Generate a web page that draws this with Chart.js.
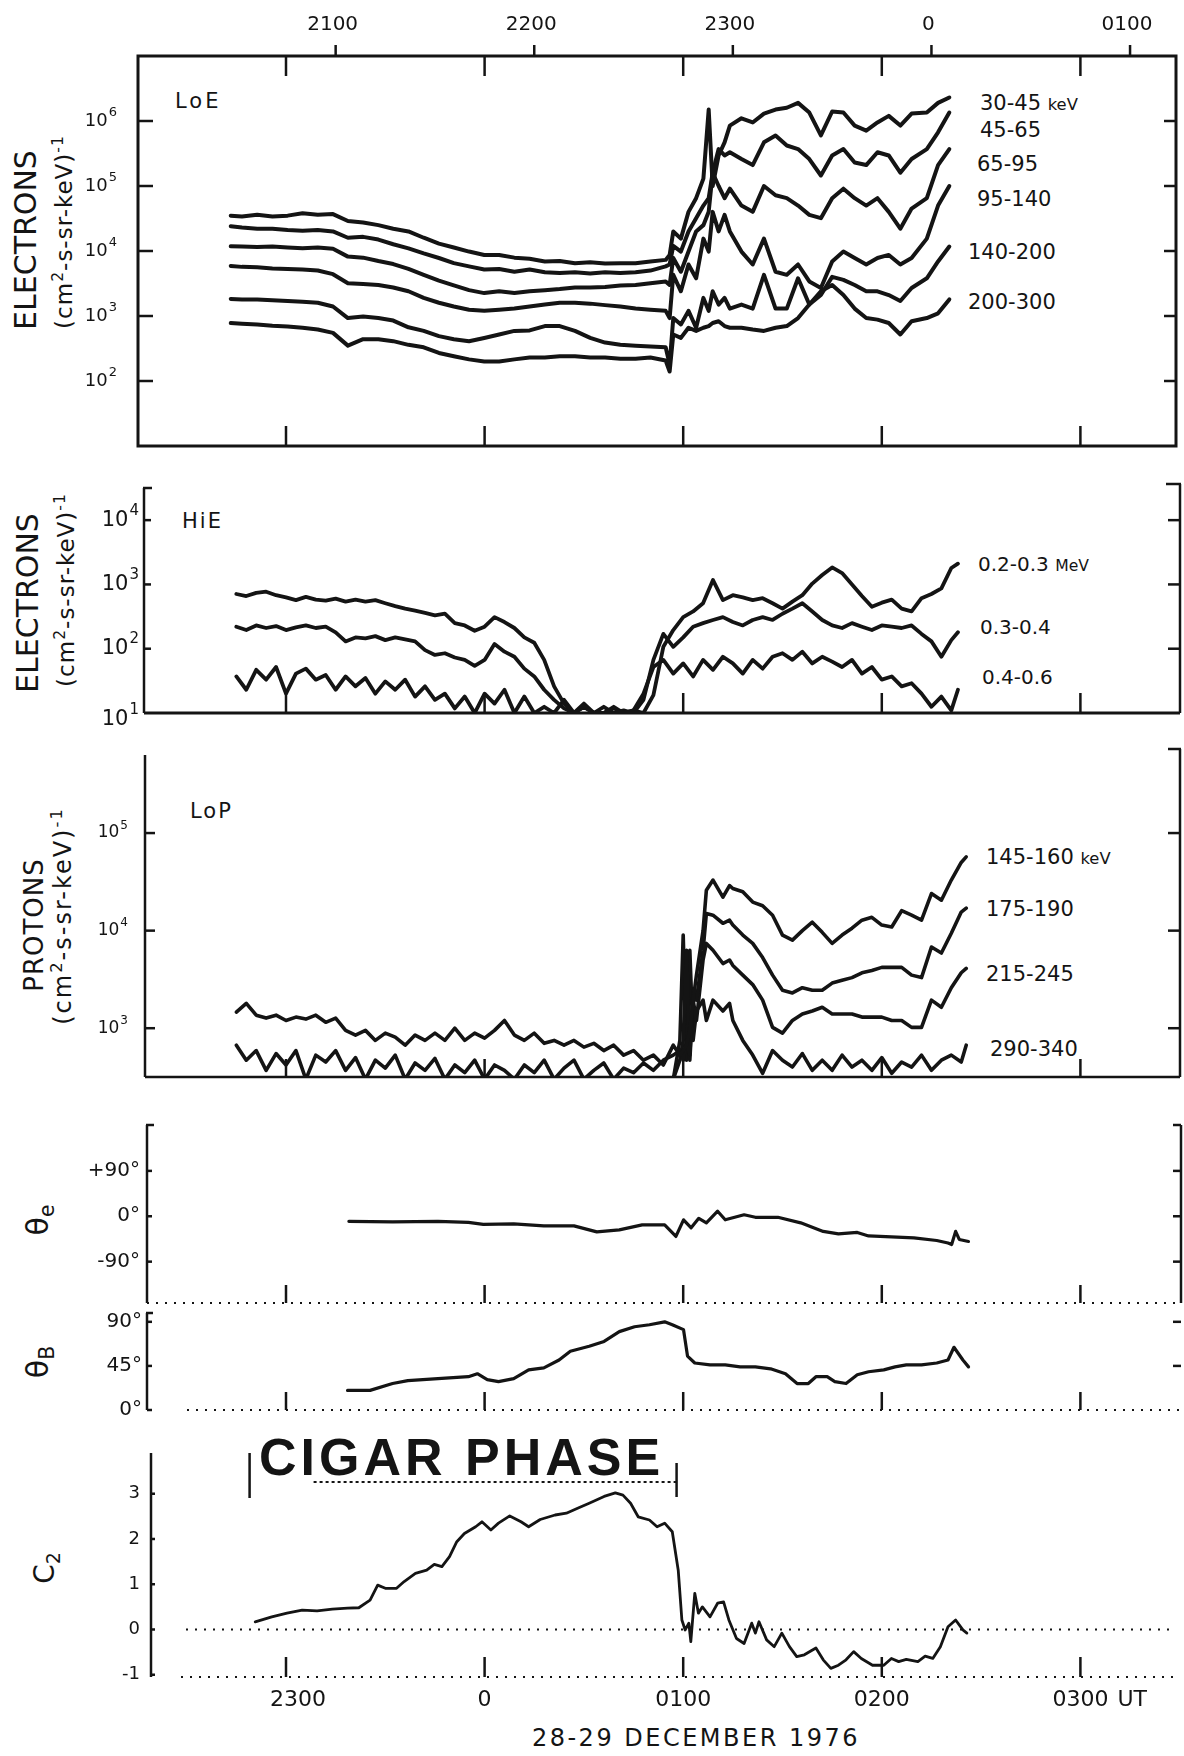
<!DOCTYPE html>
<html>
<head>
<meta charset="utf-8">
<title>Cigar phase, 28-29 December 1976</title>
<script src="https://cdn.jsdelivr.net/npm/chart.js@4.4.1/dist/chart.umd.min.js"></script>
<style>
  html, body { margin: 0; background: #fff; }
  #fig { position: relative; width: 1184px; height: 1756px; overflow: hidden; font-family: "DejaVu Sans", sans-serif; color: #141414; }
  #fig canvas { position: absolute; left: 0; }
  .lbl { position: absolute; white-space: nowrap; line-height: 1; transform: translateY(-50%); }
  .rot { position: absolute; white-space: nowrap; line-height: 1; transform: translate(-50%, -50%) rotate(-90deg); }
  sup { font-size: 68%; vertical-align: 0.55em; line-height: 0; }
  sub { font-size: 68%; vertical-align: -0.3em; line-height: 0; }
  .sm { font-size: 78%; }
</style>
</head>
<body>
<div id="fig">
  <div class="rot" style="left:26px;top:240px;font-size:30px;">ELECTRONS</div>
  <div class="rot" style="left:64px;top:232px;font-size:23px;letter-spacing:1px;">(cm<sup>2</sup>-s-sr-keV)<sup>-1</sup></div>
  <div class="lbl" style="left:175px;top:101px;font-size:21px;letter-spacing:3px;">LoE</div>
  <div class="lbl" style="left:980px;top:103px;font-size:21px;">30-45 <span class="sm">keV</span></div>
  <div class="lbl" style="left:980px;top:130px;font-size:21px;">45-65</div>
  <div class="lbl" style="left:977px;top:164px;font-size:21px;">65-95</div>
  <div class="lbl" style="left:977px;top:199px;font-size:21px;">95-140</div>
  <div class="lbl" style="left:968px;top:252px;font-size:21px;">140-200</div>
  <div class="lbl" style="left:968px;top:302px;font-size:21px;">200-300</div>

  <div class="rot" style="left:28px;top:603px;font-size:30px;">ELECTRONS</div>
  <div class="rot" style="left:66px;top:590px;font-size:23px;letter-spacing:1px;">(cm<sup>2</sup>-s-sr-keV)<sup>-1</sup></div>
  <div class="lbl" style="left:182px;top:521px;font-size:21px;letter-spacing:2px;">HiE</div>
  <div class="lbl" style="left:978px;top:564px;font-size:20px;">0.2-0.3 <span class="sm">MeV</span></div>
  <div class="lbl" style="left:980px;top:627px;font-size:20px;">0.3-0.4</div>
  <div class="lbl" style="left:982px;top:677px;font-size:20px;">0.4-0.6</div>

  <div class="rot" style="left:34px;top:925px;font-size:26px;letter-spacing:1px;">PROTONS</div>
  <div class="rot" style="left:63px;top:916px;font-size:24px;letter-spacing:2px;">(cm<sup>2</sup>-s-sr-keV)<sup>-1</sup></div>
  <div class="lbl" style="left:190px;top:811px;font-size:21px;letter-spacing:2px;">LoP</div>
  <div class="lbl" style="left:986px;top:857px;font-size:21px;">145-160 <span class="sm">keV</span></div>
  <div class="lbl" style="left:986px;top:909px;font-size:21px;">175-190</div>
  <div class="lbl" style="left:986px;top:974px;font-size:21px;">215-245</div>
  <div class="lbl" style="left:990px;top:1049px;font-size:21px;">290-340</div>

  <div class="rot" style="left:38px;top:1220px;font-size:30px;">θ<sub>e</sub></div>
  <div class="rot" style="left:38px;top:1362px;font-size:30px;">θ<sub>B</sub></div>
  <div class="rot" style="left:45px;top:1568px;font-size:28px;">C<sub>2</sub></div>
  <div class="lbl" style="left:259px;top:1457px;font:bold 52px 'Liberation Sans',sans-serif;letter-spacing:4px;">CIGAR PHASE</div>
  <div class="lbl" style="left:696px;top:1738px;font-size:24px;letter-spacing:2.5px;transform:translate(-50%,-50%);">28-29 DECEMBER 1976</div>
</div>
<script>
// time in minutes from 0000 UT, 29 Dec 1976 (2300 = -60)
const hourMarks = [-60, 0, 60, 120, 180];
const hourLabels = ['2300', '0', '0100', '0200', '0300'];
// upper time scale of the LoE panel
const topMarks = [-180, -120, -60, 0, 60];
const topMarkLabels = ['2100', '2200', '2300', '0', '0100'];
const topAxisShift = 135;

const loeTicks = [1e2, 1e3, 1e4, 1e5, 1e6];
const hieTicks = [1e1, 1e2, 1e3, 1e4];
const lopTicks = [1e3, 1e4, 1e5];
const thetaETicks = [90, 0, -90];
const thetaETickLabels = ['+90°', '0°', '-90°'];
const thetaBTicks = [90, 45, 0];
const thetaBTickLabels = ['90°', '45°', '0°'];
const c2Ticks = [3, 2, 1, 0, -1];
const cigarPhase = [-71, 58];

// LoE electrons
const loeTime = [-76.7, -73.3, -68.7, -64.1, -59.5, -55.0, -50.4, -45.8, -41.3, -36.7, -32.1, -27.6, -23.0, -18.4, -13.8, -9.3, -4.7, -0.1, 4.4, 9.0, 13.6, 18.2, 22.7, 27.3, 31.9, 36.4, 41.0, 45.6, 50.1, 54.7,
  55.9, 57.0, 59.3, 61.6, 63.9, 66.1, 67.7, 68.9, 70.7, 72.5, 74.1,
  77.6, 81.0, 84.4, 87.9, 91.3, 94.7, 98.1, 101.6, 105.0, 108.4, 111.8, 115.3, 118.7, 122.1, 125.6, 129.0, 133.6, 137.0, 140.4];
const loe30_45 = [3.5e4, 3.4e4, 3.6e4, 3.4e4, 3.5e4, 3.8e4, 3.6e4, 3.7e4, 2.9e4, 2.75e4, 2.5e4, 2.2e4, 2.0e4, 1.6e4, 1.3e4, 1.13e4, 9.8e3, 8.7e3, 8.7e3, 7.9e3, 7.6e3, 6.9e3, 7.0e3, 6.5e3, 6.7e3, 6.4e3, 6.5e3, 6.5e3, 6.9e3, 7.3e3,
  8.7e3, 2.0e4, 1.55e4, 4.0e4, 6.5e4, 1.3e5, 1.5e6, 1.0e5, 2.95e5, 4.7e5, 8.5e5,
  1.1e6, 9.5e5, 1.3e6, 1.5e6, 1.6e6, 1.9e6, 1.35e6, 6.0e5, 1.4e6, 1.35e6, 8.5e5, 7.1e5, 9.5e5, 1.2e6, 8.5e5, 1.3e6, 1.35e6, 1.9e6, 2.3e6];
const loe45_65 = [2.4e4, 2.3e4, 2.2e4, 2.2e4, 2.1e4, 2.05e4, 2.1e4, 2.0e4, 1.6e4, 1.65e4, 1.5e4, 1.27e4, 1.1e4, 9.2e3, 7.8e3, 6.5e3, 5.8e3, 5.2e3, 5.3e3, 4.8e3, 5.2e3, 4.7e3, 4.6e3, 4.7e3, 4.5e3, 4.7e3, 4.6e3, 4.7e3, 5.0e3, 5.8e3,
  6.2e3, 1.2e4, 9.8e3, 2.0e4, 3.2e4, 5.0e4, 6.5e4, 1.6e5, 3.7e5, 2.95e5, 3.3e5,
  2.6e5, 2.1e5, 4.7e5, 6.0e5, 4.2e5, 3.7e5, 2.6e5, 1.45e5, 2.95e5, 3.7e5, 2.3e5, 2.1e5, 3.3e5, 2.95e5, 1.6e5, 2.6e5, 3.7e5, 6.7e5, 1.35e6];
const loe65_95 = [1.18e4, 1.17e4, 1.15e4, 1.17e4, 1.13e4, 1.1e4, 1.13e4, 1.08e4, 8.2e3, 7.9e3, 7.0e3, 6.3e3, 5.3e3, 4.3e3, 3.5e3, 2.95e3, 2.5e3, 2.25e3, 2.4e3, 2.25e3, 2.4e3, 2.5e3, 2.6e3, 2.75e3, 2.75e3, 2.8e3, 2.95e3, 3.0e3, 3.2e3, 3.4e3,
  3.0e3, 7.8e3, 4.8e3, 9.8e3, 2.0e4, 2.5e4, 4.0e4, 1.6e5, 1.0e5, 6.5e4, 9.1e4,
  5.0e4, 4.0e4, 1.0e5, 7.2e4, 6.5e4, 5.0e4, 3.6e4, 3.2e4, 6.5e4, 9.1e4, 6.5e4, 5.0e4, 6.5e4, 4.0e4, 2.2e4, 4.5e4, 6.5e4, 2.1e5, 3.7e5];
const loe95_140 = [5.9e3, 5.7e3, 5.6e3, 5.4e3, 5.3e3, 5.2e3, 5.0e3, 4.4e3, 3.2e3, 3.1e3, 3.0e3, 2.75e3, 2.4e3, 1.9e3, 1.6e3, 1.4e3, 1.25e3, 1.2e3, 1.25e3, 1.3e3, 1.4e3, 1.5e3, 1.6e3, 1.6e3, 1.55e3, 1.47e3, 1.4e3, 1.3e3, 1.25e3, 1.2e3,
  9.3e2, 4.3e3, 2.4e3, 6.2e3, 3.8e3, 1.55e4, 9.8e3, 4.0e4, 2.0e4, 3.6e4, 2.0e4,
  9.8e3, 6.2e3, 1.55e4, 4.8e3, 4.3e3, 6.2e3, 3.4e3, 2.7e3, 6.9e3, 9.8e3, 7.8e3, 6.2e3, 7.8e3, 8.7e3, 6.2e3, 7.8e3, 1.55e4, 5.0e4, 1.0e5];
const loe140_200 = [1.83e3, 1.8e3, 1.8e3, 1.75e3, 1.7e3, 1.66e3, 1.6e3, 1.4e3, 9.3e2, 9.8e2, 9.3e2, 8.5e2, 6.7e2, 5.9e2, 4.9e2, 4.4e2, 4.1e2, 4.6e2, 5.2e2, 5.9e2, 6.0e2, 7.0e2, 7.0e2, 5.9e2, 4.6e2, 3.9e2, 3.6e2, 3.5e2, 3.4e2, 3.3e2,
  1.8e2, 9.3e2, 7.4e2, 1.2e3, 6.6e2, 1.9e3, 1.2e3, 2.4e3, 1.5e3, 1.9e3, 1.3e3,
  1.5e3, 1.3e3, 4.3e3, 1.3e3, 1.3e3, 3.8e3, 1.5e3, 2.1e3, 4.0e3, 3.6e3, 3.0e3, 2.4e3, 2.4e3, 2.1e3, 1.7e3, 2.7e3, 3.8e3, 6.9e3, 1.17e4];
const loe200_300 = [7.8e2, 7.6e2, 7.4e2, 7.1e2, 6.9e2, 6.6e2, 6.2e2, 5.5e2, 3.5e2, 4.4e2, 4.4e2, 4.1e2, 3.6e2, 3.3e2, 2.7e2, 2.4e2, 2.15e2, 2.0e2, 2.0e2, 2.15e2, 2.3e2, 2.3e2, 2.4e2, 2.4e2, 2.3e2, 2.3e2, 2.2e2, 2.2e2, 2.3e2, 2.07e2,
  1.4e2, 5.2e2, 4.6e2, 6.6e2, 5.9e2, 6.6e2, 7.0e2, 7.8e2, 8.3e2, 7.0e2, 6.6e2,
  6.6e2, 6.2e2, 5.9e2, 6.6e2, 7.0e2, 9.3e2, 1.5e3, 2.4e3, 3.0e3, 2.1e3, 1.3e3, 9.3e2, 8.8e2, 7.8e2, 5.2e2, 8.3e2, 9.3e2, 1.1e3, 1.8e3];

// HiE electrons
const hieTime = [-75, -72, -69, -66, -63, -60, -57, -54, -51, -48, -45, -42, -39, -36, -33, -30, -27, -24, -21, -18, -15, -12, -9, -6, -3, 0, 3, 6, 9, 12, 15, 18, 21, 24, 27, 30, 33, 36,
  39, 42, 45, 48, 51, 54, 57, 60, 63, 66, 69, 72, 75, 78, 81, 84, 87, 90, 93, 96, 99, 102, 105, 108, 111, 114, 117, 120, 123, 126, 129, 132, 135, 138, 141, 143];
const hie02_03 = [7.1e2, 6.6e2, 7.4e2, 7.7e2, 6.8e2, 6.3e2, 5.7e2, 6.4e2, 5.8e2, 5.6e2, 6.0e2, 5.4e2, 5.8e2, 5.4e2, 5.7e2, 5.1e2, 4.6e2, 4.2e2, 3.9e2, 3.6e2, 3.3e2, 3.5e2, 2.5e2, 2.3e2, 1.9e2, 2.2e2, 3.1e2, 2.6e2, 2.1e2, 1.5e2, 1.24e2, 67, 26, 14, 10, 12.5, 10,
  10, 11.8, 10, 11, 10, 19, 1.07e2, 1.95e2, 3.1e2, 3.8e2, 5.1e2, 1.17e3, 5.7e2, 6.8e2, 6.3e2, 5.7e2, 6.1e2, 5.1e2, 4.2e2, 5.4e2, 6.8e2, 1.03e3, 1.4e3, 1.84e3, 1.5e3, 1.0e3, 6.6e2, 4.5e2, 5.2e2, 5.8e2, 4.2e2, 3.8e2, 6.1e2, 7.1e2, 8.7e2, 1.8e3, 2.1e3];
const hie03_04 = [2.2e2, 1.95e2, 2.3e2, 2.1e2, 2.25e2, 1.95e2, 2.15e2, 2.3e2, 2.1e2, 2.2e2, 1.8e2, 1.3e2, 1.5e2, 1.45e2, 1.57e2, 1.36e2, 1.5e2, 1.4e2, 1.3e2, 95, 80, 85, 73, 67, 54, 67, 1.18e2, 90, 75, 49, 37, 23, 16, 11.8, 10, 14, 10,
  12.5, 10, 11, 10, 16, 67, 1.7e2, 1.07e2, 1.5e2, 2.2e2, 2.5e2, 2.8e2, 3.1e2, 2.6e2, 2.3e2, 2.8e2, 3.1e2, 2.8e2, 3.5e2, 4.2e2, 5.1e2, 3.8e2, 2.8e2, 2.3e2, 2.1e2, 2.5e2, 2.2e2, 1.95e2, 2.3e2, 2.2e2, 2.1e2, 2.3e2, 1.7e2, 1.3e2, 75, 1.36e2, 1.8e2];
const hie04_06 = [37, 23, 47, 33, 52, 20, 41, 49, 33, 39, 23, 37, 26, 35, 20, 31, 23, 33, 18, 26, 16, 20, 11.8, 18, 10, 20, 14, 23, 10, 18, 10, 12.5, 10, 16, 10, 12.5, 10,
  10, 12.5, 10, 11, 20, 52, 67, 41, 59, 37, 67, 47, 75, 59, 41, 67, 49, 75, 85, 67, 90, 59, 75, 63, 52, 67, 41, 52, 33, 37, 26, 29, 20, 12.5, 18, 11, 23];

// LoP protons
const lopTime = [-75, -72, -69, -66, -63, -60, -57, -54, -51, -48, -45, -42, -39, -36, -33, -30, -27, -24, -21, -18, -15, -12, -9, -6, -3, 0, 3, 6, 9, 12, 15, 18, 21, 24, 27, 30, 33, 36, 39, 42, 45, 48, 51, 54, 57,
  59, 60, 61, 62, 63, 64, 66, 67, 69, 72, 74,
  75, 78, 81, 84, 87, 90, 93, 96, 99, 102, 105, 108, 111, 114, 117, 120, 123, 126, 129, 132, 135, 138, 141, 144, 145.5];
const lop145_160 = [1.46e3, 1.8e3, 1.36e3, 1.27e3, 1.36e3, 1.2e3, 1.3e3, 1.24e3, 1.36e3, 1.15e3, 1.27e3, 9.5e2, 8.5e2, 9.5e2, 7.5e2, 8.9e2, 8.1e2, 6.7e2, 8.5e2, 7.5e2, 8.9e2, 7.5e2, 1.0e3, 7.5e2, 8.9e2, 7.9e2, 9.5e2, 1.2e3, 8.5e2, 7.5e2, 8.9e2, 7.0e2, 7.5e2, 6.7e2, 7.5e2, 6.4e2, 7.0e2, 5.9e2, 6.7e2, 5.3e2, 5.9e2, 4.7e2, 5.3e2, 4.2e2, 6.7e2,
  5.3e2, 5.9e2, 6.7e2, 9.5e2, 1.94e3, 3.5e3, 1.0e4, 2.6e4, 3.3e4, 2.2e4, 2.9e4,
  2.7e4, 2.5e4, 1.96e4, 1.8e4, 1.44e4, 9.0e3, 8.0e3, 1.0e4, 1.22e4, 9.6e3, 7.4e3, 9.0e3, 1.06e4, 1.28e4, 1.37e4, 1.14e4, 1.09e4, 1.6e4, 1.44e4, 1.28e4, 2.4e4, 2.05e4, 3.3e4, 5.0e4, 5.7e4];
const lop175_190 = [6.7e2, 4.7e2, 5.9e2, 3.7e2, 5.5e2, 4.2e2, 5.9e2, 3.0e2, 5.3e2, 4.5e2, 5.9e2, 3.7e2, 5.0e2, 3.0e2, 4.7e2, 3.9e2, 5.3e2, 3.0e2, 4.4e2, 3.7e2, 4.9e2, 3.0e2, 4.2e2, 3.5e2, 4.7e2, 3.0e2, 4.2e2, 3.7e2, 3.0e2, 4.2e2, 3.5e2, 4.7e2, 3.0e2, 3.9e2, 4.7e2, 3.0e2, 3.7e2, 4.4e2, 3.0e2, 3.9e2, 3.5e2, 4.4e2, 3.7e2, 4.7e2, 5.3e2,
  5.9e2, 4.7e2, 7.5e2, 5.3e2, 2.45e3, 1.94e3, 6.3e3, 1.5e4, 1.44e4, 1.19e4, 1.28e4,
  1.14e4, 9.0e3, 7.4e3, 5.3e3, 3.5e3, 2.45e3, 2.3e3, 2.6e3, 2.45e3, 2.45e3, 2.9e3, 3.1e3, 3.3e3, 3.7e3, 3.9e3, 4.2e3, 4.2e3, 4.2e3, 3.5e3, 3.3e3, 6.8e3, 5.9e3, 9.4e3, 1.55e4, 1.7e4];
// the two highest channels rise out of the floor from t = 57
const lop215_245 = [3.0e2,
  4.7e2, 7.5e2, 6.3e3, 4.7e2, 1.94e3, 1.2e3, 5.0e3, 7.4e3, 6.3e3, 4.6e3, 5.0e3,
  4.4e3, 3.5e3, 2.8e3, 1.94e3, 1.02e3, 8.9e2, 1.2e3, 1.4e3, 1.5e3, 1.64e3, 1.4e3, 1.4e3, 1.4e3, 1.3e3, 1.3e3, 1.3e3, 1.2e3, 1.2e3, 1.02e3, 1.02e3, 1.94e3, 1.64e3, 2.6e3, 3.7e3, 4.1e3];
const lop290_340 = [3.0e2,
  7.5e2, 9.0e3, 4.7e2, 6.3e3, 7.5e2, 1.5e3, 1.94e3, 1.2e3, 1.94e3, 1.5e3, 1.8e3,
  1.2e3, 7.5e2, 5.3e2, 3.45e2, 5.9e2, 4.7e2, 4.0e2, 5.5e2, 3.7e2, 4.7e2, 3.7e2, 5.3e2, 4.0e2, 4.7e2, 3.7e2, 5.0e2, 3.45e2, 4.5e2, 4.0e2, 5.3e2, 3.7e2, 4.7e2, 5.3e2, 4.5e2, 6.7e2];

// pitch angles (degrees)
const thetaETime = [-41.0, -27.8, -14.1, -4.9, -0.4, 8.8, 17.9, 27.0, 31.6, 33.9, 40.7, 47.6, 54.4, 57.8, 60.1, 62.4, 64.7, 67.0, 70.4, 72.7, 78.4, 81.8, 88.6, 95.5, 102.3, 106.9, 112.6, 116.0, 122.9, 129.7, 136.6, 140.0, 141.1, 142.3, 143.4, 146.2];
const thetaE = [-10, -11, -10, -12, -16, -15, -19, -19, -27, -31, -27, -17, -17, -40, -7, -23, -4, -13, 10, -7, 3, -2, -2, -13, -30, -35, -32, -39, -41, -43, -48, -53, -56, -30, -46, -50];
const thetaBTime = [-41.4, -34.6, -27.8, -23.2, -14.1, -4.9, -2.2, 0.8, 4.2, 8.8, 13.3, 17.9, 22.5, 25.9, 31.6, 36.1, 40.7, 45.3, 49.8, 54.4, 56.7, 60.1, 61.3, 63.5, 68.1, 72.7, 77.2, 81.8, 86.4, 90.9, 94.4, 97.8, 100.1, 103.5, 105.8, 109.2, 112.6, 116.0, 120.6, 124.0, 127.4, 132.0, 136.6, 140.0, 141.8, 144.5, 146.2];
const thetaB = [20, 20, 27, 30, 32, 34, 37, 31, 29, 32, 41, 43, 51, 60, 65, 70, 80, 85, 87, 90, 87, 82, 55, 48, 46, 46, 44, 44, 42, 37, 27, 27, 34, 34, 29, 27, 36, 39, 41, 44, 46, 46, 48, 51, 64, 51, 44];

// C2
const c2Time = [-69.3, -64.3, -59.7, -55.1, -50.6, -46.0, -41.4, -38.0, -34.6, -32.3, -30.0, -26.6, -24.3, -20.9, -17.5, -15.2, -12.9, -10.6, -8.4, -6.1,
  -2.7, -0.8, 1.9, 4.2, 7.6, 11.0, 13.3, 16.8, 21.3, 24.7, 28.1, 31.6, 36.1, 39.5, 41.8, 44.1, 46.4, 49.8, 52.1, 54.4,
  56.7, 58.5, 59.6, 60.6, 61.7, 62.3, 63.5, 64.6, 65.8, 68.1, 70.4, 72.2, 73.8, 76.1, 78.4, 80.7, 81.8, 82.9, 85.2, 87.5,
  89.8, 92.1, 94.3, 96.6, 100.1, 102.3, 104.6, 106.9, 109.2, 111.5, 113.8, 117.2, 120.6, 122.9, 125.1, 127.4, 130.9, 133.1, 135.4, 137.7, 140.0, 142.3, 144.5, 145.7];
const c2 = [0.17, 0.28, 0.36, 0.43, 0.41, 0.45, 0.47, 0.48, 0.65, 0.98, 0.91, 0.91, 1.06, 1.24, 1.31, 1.44, 1.39, 1.61, 1.94, 2.12,
  2.27, 2.38, 2.20, 2.35, 2.51, 2.38, 2.27, 2.43, 2.53, 2.57, 2.68, 2.79, 2.94, 3.02, 2.97, 2.79, 2.49, 2.42, 2.27, 2.35,
  2.16, 1.31, 0.21, -0.01, 0.14, -0.27, 0.80, 0.36, 0.50, 0.28, 0.58, 0.61, 0.21, -0.20, -0.31, 0.14, -0.08, 0.17, -0.23, -0.38,
  -0.08, -0.38, -0.60, -0.56, -0.41, -0.67, -0.86, -0.79, -0.67, -0.49, -0.64, -0.79, -0.79, -0.64, -0.71, -0.66, -0.71, -0.59, -0.64, -0.38, 0.06, 0.21, -0.01, -0.08];

const fig = document.getElementById('fig');
const INK = '#141414';
const FIG_W = 1184;
// all panels share one time axis: 2300 UT sits at x=286, 3.31 px per minute
const X_AT_2300 = 286, PX_PER_MIN = 3.31;
function minuteAtPx(px) { return -60 + (px - X_AT_2300) / PX_PER_MIN; }

function pts(time, vals) { return time.map((t, i) => ({ x: t, y: vals[i] })); }
function trace(time, vals, width) {
  return {
    data: pts(time, vals), borderColor: INK, borderWidth: width, pointRadius: 0,
    tension: 0, fill: false, borderJoinStyle: 'round', borderCapStyle: 'round',
    xAxisID: 'x', yAxisID: 'y'
  };
}

function seg(ctx, x1, y1, x2, y2) { ctx.beginPath(); ctx.moveTo(x1, y1); ctx.lineTo(x2, y2); ctx.stroke(); }
function dotted(ctx, x1, y, x2) { ctx.save(); ctx.setLineDash([2, 7]); seg(ctx, x1, y, x2, y); ctx.restore(); }
function label(ctx, s, x, y, size, align) {
  ctx.font = size + 'px "DejaVu Sans"';
  ctx.textAlign = align || 'right';
  ctx.textBaseline = 'middle';
  ctx.fillText(s, x, y);
}
function powLabel(ctx, v, xr, y, size) {
  const exp = String(Math.round(Math.log10(v)));
  ctx.textBaseline = 'middle'; ctx.textAlign = 'right';
  ctx.font = Math.round(size * 0.72) + 'px "DejaVu Sans"';
  const w = ctx.measureText(exp).width;
  ctx.fillText(exp, xr, y - size * 0.45);
  ctx.font = size + 'px "DejaVu Sans"';
  ctx.fillText('10', xr - w - 1, y);
}
function hourTicks(chart, ctx, y, len) {
  hourMarks.forEach(t => {
    const x = chart.scales.x.getPixelForValue(t);
    seg(ctx, x, y, x, y + len);
  });
}

function panel(box, yScale, datasets, draw) {
  const cv = document.createElement('canvas');
  cv.width = FIG_W;
  cv.height = box.bottom - box.top + box.padTop + box.padBottom;
  cv.style.top = (box.top - box.padTop) + 'px';
  fig.appendChild(cv);
  const scales = {
    x: { type: 'linear', display: false, min: minuteAtPx(box.left), max: minuteAtPx(box.right) },
    y: Object.assign({ display: false }, yScale)
  };
  if (box.topShift !== undefined) {
    scales.x2 = { type: 'linear', display: false, position: 'top',
      min: scales.x.min - box.topShift, max: scales.x.max - box.topShift };
  }
  return new Chart(cv, {
    type: 'line',
    data: { datasets },
    options: {
      responsive: false, animation: false, events: [],
      layout: { padding: { left: box.left, right: FIG_W - box.right, top: box.padTop, bottom: box.padBottom } },
      plugins: { legend: { display: false }, tooltip: { enabled: false } },
      scales
    },
    plugins: [{
      id: 'frame',
      afterDatasetsDraw(chart) {
        const ctx = chart.ctx;
        ctx.save();
        ctx.strokeStyle = INK; ctx.fillStyle = INK; ctx.lineWidth = 2.5; ctx.lineCap = 'butt';
        draw(chart, ctx, chart.chartArea, chart.scales.x, chart.scales.y);
        ctx.restore();
      }
    }]
  });
}

// LoE
panel({ left: 138, right: 1176, top: 56, bottom: 446, padTop: 56, padBottom: 24, topShift: topAxisShift },
  { type: 'logarithmic', min: 10, max: 1e7 },
  [trace(loeTime, loe30_45, 4), trace(loeTime, loe45_65, 4), trace(loeTime, loe65_95, 4),
   trace(loeTime, loe95_140, 4), trace(loeTime, loe140_200, 4), trace(loeTime, loe200_300, 4)],
  (chart, ctx, a, xs, ys) => {
    ctx.lineWidth = 3;
    ctx.strokeRect(a.left, a.top, a.right - a.left, a.bottom - a.top);
    ctx.lineWidth = 2.5;
    hourTicks(chart, ctx, a.top, 20);
    hourTicks(chart, ctx, a.bottom, -20);
    topMarks.forEach((t, i) => {
      const x = chart.scales.x2.getPixelForValue(t);
      seg(ctx, x, a.top, x, a.top - 11);
      label(ctx, topMarkLabels[i], x - 3, a.top - 31, 20, 'center');
    });
    loeTicks.forEach(v => {
      const y = ys.getPixelForValue(v);
      seg(ctx, a.left, y, a.left + 15, y);
      seg(ctx, a.right, y, a.right - 12, y);
      powLabel(ctx, v, a.left - 21, y, 18);
    });
  });

// HiE
panel({ left: 144, right: 1180, top: 488, bottom: 713, padTop: 30, padBottom: 30 },
  { type: 'logarithmic', min: 10, max: 31623 },
  [trace(hieTime, hie02_03, 3.8), trace(hieTime, hie03_04, 3.8), trace(hieTime, hie04_06, 3.8)],
  (chart, ctx, a, xs, ys) => {
    seg(ctx, a.left, a.top, a.left, a.bottom);
    seg(ctx, a.left - 1, a.top, a.left + 8, a.top);
    seg(ctx, a.right, a.top - 4, a.right, a.bottom);
    seg(ctx, a.right + 1, a.top - 4, a.right - 14, a.top - 4);
    ctx.lineWidth = 3;
    seg(ctx, a.left, a.bottom, a.right, a.bottom);
    ctx.lineWidth = 2.5;
    hourTicks(chart, ctx, a.bottom, -20);
    hieTicks.forEach((v, i) => {
      const y = ys.getPixelForValue(v);
      if (i > 0) { seg(ctx, a.left, y, a.left + 7, y); seg(ctx, a.right, y, a.right - 12, y); }
      powLabel(ctx, v, a.left - 5, y + (i === 0 ? 7 : 0), 21);
    });
  });

// LoP
panel({ left: 145, right: 1180, top: 755, bottom: 1077, padTop: 30, padBottom: 30 },
  { type: 'logarithmic', min: 316.2, max: 630957 },
  [trace(lopTime, lop145_160, 3.6), trace(lopTime, lop175_190, 3.6),
   trace(lopTime.slice(44), lop215_245, 3.6), trace(lopTime.slice(44), lop290_340, 3.6)],
  (chart, ctx, a, xs, ys) => {
    seg(ctx, a.left, a.top, a.left, a.bottom);
    seg(ctx, a.right, a.top - 6, a.right, a.bottom);
    seg(ctx, a.right + 1, a.top - 6, a.right - 12, a.top - 6);
    ctx.lineWidth = 2.5;
    seg(ctx, a.left, a.bottom, a.right, a.bottom);
    hourTicks(chart, ctx, a.bottom, -18);
    lopTicks.forEach(v => {
      const y = ys.getPixelForValue(v);
      seg(ctx, a.left, y, a.left + 10, y);
      seg(ctx, a.right, y, a.right - 12, y);
      powLabel(ctx, v, a.left - 17, y, 17);
    });
  });

// theta e
panel({ left: 147, right: 1181, top: 1125, bottom: 1303, padTop: 20, padBottom: 10 },
  { type: 'linear', min: -172, max: 181 },
  [trace(thetaETime, thetaE, 3.2)],
  (chart, ctx, a, xs, ys) => {
    seg(ctx, a.left, a.top, a.left, a.bottom);
    seg(ctx, a.left - 1, a.top, a.left + 7, a.top);
    seg(ctx, a.right, a.top, a.right, a.bottom);
    seg(ctx, a.right, a.top, a.right - 8, a.top);
    ctx.lineWidth = 2;
    dotted(ctx, a.left, a.bottom, a.right);
    ctx.lineWidth = 2.5;
    hourTicks(chart, ctx, a.bottom, -18);
    thetaETicks.forEach((v, i) => {
      const y = ys.getPixelForValue(v);
      seg(ctx, a.left, y, a.left + 5, y);
      seg(ctx, a.right, y, a.right - 8, y);
      label(ctx, thetaETickLabels[i], a.left - 7, y, 20);
    });
  });

// theta B
panel({ left: 147, right: 1181, top: 1313, bottom: 1410, padTop: 10, padBottom: 20 },
  { type: 'linear', min: 0, max: 99 },
  [trace(thetaBTime, thetaB, 3.2)],
  (chart, ctx, a, xs, ys) => {
    seg(ctx, a.left, a.top, a.left, a.bottom);
    seg(ctx, a.left - 1, a.top, a.left + 6, a.top);
    ctx.lineWidth = 2;
    dotted(ctx, a.left + 40, a.bottom, a.right);
    ctx.lineWidth = 2.5;
    hourTicks(chart, ctx, a.bottom, -18);
    thetaBTicks.forEach((v, i) => {
      const y = ys.getPixelForValue(v);
      seg(ctx, a.left, y, a.left + 5, y);
      if (v > 0) seg(ctx, a.right, y, a.right - 8, y);
      label(ctx, thetaBTickLabels[i], a.left - 5, y, 20);
    });
  });

// C2
panel({ left: 151, right: 1176, top: 1453, bottom: 1677, padTop: 40, padBottom: 79 },
  { type: 'linear', min: -1.05, max: 3.9 },
  [trace(c2Time, c2, 2.8)],
  (chart, ctx, a, xs, ys) => {
    seg(ctx, a.left, a.top, a.left, a.bottom);
    ctx.lineWidth = 2;
    dotted(ctx, a.left + 35, ys.getPixelForValue(0), a.right);
    dotted(ctx, a.left + 30, a.bottom, a.right);
    ctx.lineWidth = 2.5;
    hourTicks(chart, ctx, a.bottom, -20);
    c2Ticks.forEach(v => {
      const y = ys.getPixelForValue(v);
      seg(ctx, a.left, y, a.left + 4, y);
      label(ctx, String(v), a.left - 11, y, 18);
    });
    hourMarks.forEach((t, i) => label(ctx, hourLabels[i], xs.getPixelForValue(t) + (i === 0 ? 12 : 0), a.bottom + 23, 22, 'center'));
    ctx.font = '22px "DejaVu Sans"';
    const last = hourMarks.length - 1;
    const half = ctx.measureText(hourLabels[last]).width / 2;
    label(ctx, 'UT', xs.getPixelForValue(hourMarks[last]) + half + 9, a.bottom + 23, 22, 'left');
    // cigar phase bracket
    const xa = xs.getPixelForValue(cigarPhase[0]), xb = xs.getPixelForValue(cigarPhase[1]);
    seg(ctx, xa, a.top, xa, a.top + 45);
    seg(ctx, xb, a.top + 10, xb, a.top + 44);
    ctx.lineWidth = 2;
    ctx.setLineDash([3, 3]);
    seg(ctx, xa + 64, a.top + 29, xb, a.top + 29);
    ctx.setLineDash([]);
  });
</script>
</body>
</html>
